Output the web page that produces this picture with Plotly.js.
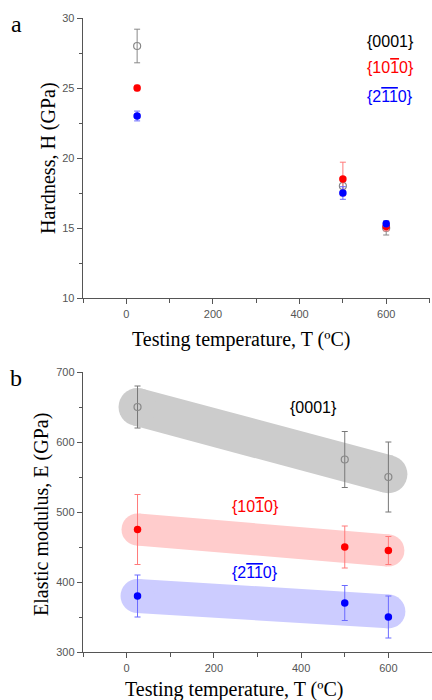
<!DOCTYPE html>
<html>
<head>
<meta charset="utf-8">
<script src="https://cdn.plot.ly/plotly-3.0.1.min.js"></script>
<style>html,body{margin:0;padding:0;background:#fff;}#chart{width:432px;height:700px;}</style>
</head>
<body>
<div id="chart"></div>
<script>
// ---------- data ----------
const temps = [25, 500, 600];

// (a) Hardness, GPa
const H_0001 = [28.0, 18.0, 15.0];
const H_0001_err = [1.2, 0.3, 0.5];
const H_1010 = [25.0, 18.5, 15.1];
const H_1010_err = [0.2, 1.2, 0.3];
const H_2110 = [23.0, 17.5, 15.3];
const H_2110_err = [0.35, 0.45, 0.2];

// (b) Elastic modulus, GPa
const E_0001 = [650, 575, 550];
const E_0001_err = [30, 40, 50];
const E_1010 = [475, 450, 445];
const E_1010_err = [50, 30, 20];
const E_2110 = [380, 370, 350];
const E_2110_err = [30, 25, 30];

// guide bands (trend) in panel b
const bandX = [25, 600];
const band_0001 = [650, 554];
const band_1010 = [475, 445];
const band_2110 = [380, 358];

// labels
const lab0001 = '{0001}';
const lab1010 = '{10<span style="text-decoration:overline">1</span>0}';
const lab2110 = '{2<span style="text-decoration:overline">11</span>0}';
const xTitle = 'Testing temperature, T (ºC)';
const yTitleA = 'Hardness, H (GPa)';
const yTitleB = 'Elastic modulus, E (GPa)';

// ---------- geometry helpers ----------
const W = 432, Hh = 700, ML = 83, MR = 0, MT = 18, MB = 48;
const PW = W - ML - MR, PH = Hh - MT - MB;
const px2x = p => (p - ML) / PW;
const py2y = p => (Hh - MB - p) / PH;

const AX = '#555';
const tickFont = {family: 'Liberation Sans, Arial, sans-serif', size: 11, color: '#555'};
const serif = 'Liberation Serif, Times New Roman, serif';
const sans = 'Liberation Sans, Arial, sans-serif';

function mainX(anchor, domain) {
  return {domain: domain, anchor: anchor, range: [-100, 700], tick0: 0, dtick: 200,
    ticks: 'outside', ticklen: 5, tickwidth: 1, tickcolor: AX,
    showline: true, linecolor: AX, linewidth: 1.3, showgrid: false, zeroline: false,
    tickfont: tickFont,
    minor: {tick0: 0, dtick: 100, ticks: 'outside', ticklen: 4, tickwidth: 1, tickcolor: AX, showgrid: false}};
}
function topX(over, anchor, showline) {
  return {overlaying: over, side: 'top', anchor: anchor, range: [-100, 700], tick0: 0, dtick: 100,
    ticks: 'inside', ticklen: 4, tickwidth: 1, tickcolor: AX, showticklabels: false,
    showline: showline, linecolor: AX, linewidth: 1.3, showgrid: false, zeroline: false};
}
function mainY(anchor, domain, range, dtick, minor) {
  return {domain: domain, anchor: anchor, range: range, dtick: dtick, tick0: range[0],
    ticks: 'outside', ticklen: 5, tickwidth: 1, tickcolor: AX,
    showline: true, linecolor: AX, linewidth: 1.3, showgrid: false, zeroline: false,
    tickfont: tickFont,
    minor: {tick0: range[0], dtick: minor, ticks: 'outside', ticklen: 3, tickwidth: 1, tickcolor: AX, showgrid: false}};
}
function rightY(over, anchor, range, dtick, showline) {
  return {overlaying: over, side: 'right', anchor: anchor, range: range, tick0: range[0], dtick: dtick,
    ticks: 'inside', ticklen: 4, tickwidth: 1, tickcolor: AX, showticklabels: false,
    showline: showline, linecolor: AX, linewidth: 1.3, showgrid: false, zeroline: false};
}

function pts(x, y, err, color, errColor, open, xa, ya) {
  return {x: x, y: y, xaxis: xa, yaxis: ya, type: 'scatter', mode: 'markers',
    marker: open ? {symbol: 'circle-open', size: 7, color: '#888', line: {width: 1.2, color: '#888'}}
                 : {symbol: 'circle', size: 7.5, color: color, line: {width: 0}},
    error_y: {type: 'data', array: err, visible: true, color: errColor, thickness: 1, width: 3},
    hoverinfo: 'skip'};
}
function band(y, color, width) {
  return {x: bandX, y: y, xaxis: 'x2', yaxis: 'y2', type: 'scatter', mode: 'lines+markers',
    line: {color: color, width: width},
    marker: {size: width, color: color, line: {width: 0}}, hoverinfo: 'skip'};
}

const data = [
  pts(temps, H_0001, H_0001_err, '#888', '#888', true, 'x', 'y'),
  pts(temps, H_1010, H_1010_err, '#ff0000', '#ff7a7a', false, 'x', 'y'),
  pts(temps, H_2110, H_2110_err, '#0000ff', '#6a6aff', false, 'x', 'y'),
  band(band_0001, '#cccccc', 38),
  band(band_1010, '#ffcccc', 32),
  band(band_2110, '#ccccff', 34),
  pts(temps, E_0001, E_0001_err, '#888', '#777', true, 'x2', 'y2'),
  pts(temps, E_1010, E_1010_err, '#ff0000', '#ff7a7a', false, 'x2', 'y2'),
  pts(temps, E_2110, E_2110_err, '#0000ff', '#6a6aff', false, 'x2', 'y2')
];

const domTop = [py2y(298), 1];
const domBot = [0, py2y(372)];
const xTopDom = [0, (429.5 - ML) / PW];

function ann(text, px, py, font, extra) {
  return Object.assign({text: text, x: px2x(px), y: py2y(py), xref: 'paper', yref: 'paper',
    xanchor: 'center', yanchor: 'middle', showarrow: false, font: font}, extra || {});
}

const layout = {
  width: W, height: Hh, margin: {l: ML, r: MR, t: MT, b: MB, pad: 0},
  paper_bgcolor: '#fff', plot_bgcolor: 'rgba(0,0,0,0)', showlegend: false,
  xaxis: mainX('y', xTopDom),
  xaxis3: topX('x', 'y', true),
  yaxis: mainY('x', domTop, [10, 30], 5, 2.5),
  yaxis3: rightY('y', 'x', [10, 30], 2.5, true),
  xaxis2: mainX('y2', [0, 1]),
  xaxis4: topX('x2', 'y2', true),
  yaxis2: mainY('x2', domBot, [300, 700], 100, 50),
  yaxis4: rightY('y2', 'x2', [300, 700], 50, false),
  annotations: [
    ann('a', 16, 24, {family: serif, size: 24, color: '#000'}),
    ann('b', 16, 378, {family: serif, size: 24, color: '#000'}),
    ann(yTitleA, 49, 158, {family: serif, size: 20, color: '#000'}, {textangle: -90}),
    ann(yTitleB, 41, 515, {family: serif, size: 20, color: '#000'}, {textangle: -90}),
    ann(xTitle, 241, 339, {family: serif, size: 20, color: '#000'}),
    ann(xTitle, 234, 689, {family: serif, size: 20, color: '#000'}),
    ann(lab0001, 390, 41, {family: sans, size: 16, color: '#000'}),
    ann(lab1010, 390, 68, {family: sans, size: 16, color: '#ff0000'}),
    ann(lab2110, 390, 96, {family: sans, size: 16, color: '#0000ff'}),
    ann(lab0001, 313, 408, {family: sans, size: 16, color: '#000'}),
    ann(lab1010, 255, 506, {family: sans, size: 16, color: '#ff0000'}),
    ann(lab2110, 255, 572, {family: sans, size: 16, color: '#0000ff'})
  ]
};

Plotly.newPlot('chart', data, layout, {displayModeBar: false, staticPlot: true});
</script>
</body>
</html>
